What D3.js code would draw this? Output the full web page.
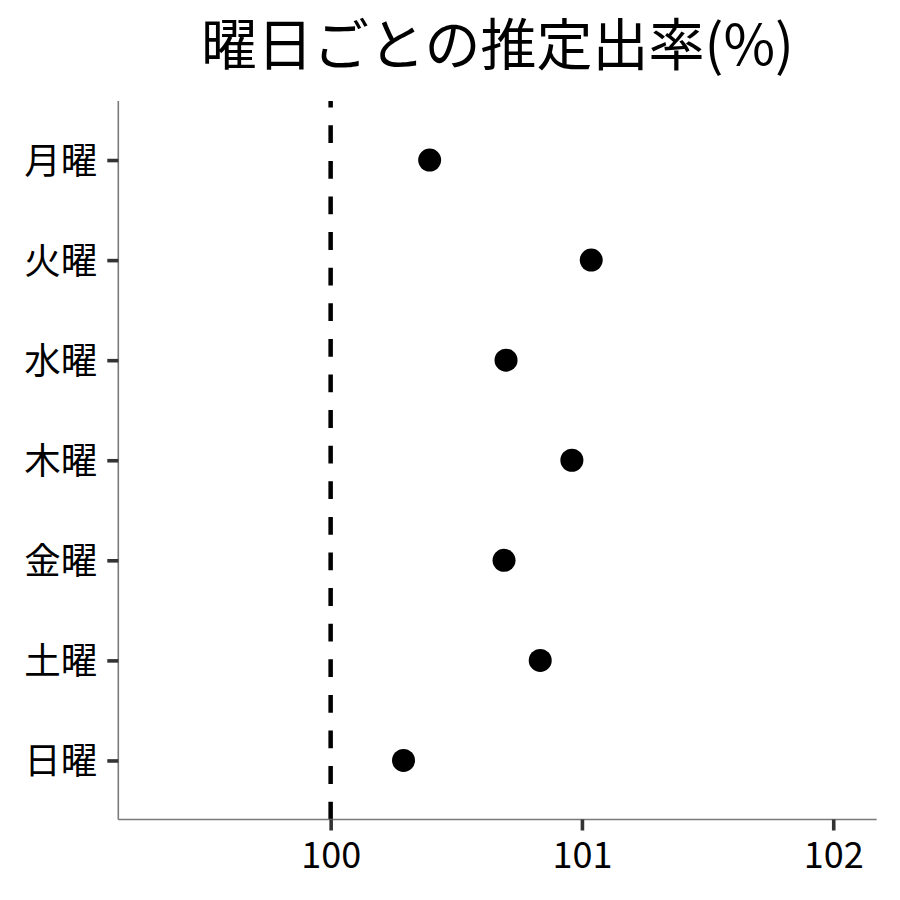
<!DOCTYPE html>
<html>
<head>
<meta charset="utf-8">
<script src="https://cdn.jsdelivr.net/npm/d3@7"></script>
<style>
html,body{margin:0;padding:0;background:#fff;}
svg{display:block;}
text{font-family:"Noto Sans CJK JP","Noto Sans",sans-serif;}
</style>
</head>
<body>
<svg id="chart" width="900" height="900"></svg>
<script>
const days = ["月曜","火曜","水曜","木曜","金曜","土曜","日曜"];
const rates = [100.394, 101.037, 100.698, 100.960, 100.690, 100.834, 100.290];
const xTicks = [100, 101, 102];
const refValue = 100;
const title = "曜日ごとの推定出率(%)";

(function(){
const svg = d3.select("#chart");
const pLeft = 118.3, pRight = 876.7, pTop = 101, pBottom = 819.5;

const x = d3.scaleLinear().domain([99.155, 102.173]).range([pLeft, pRight]);
const y = d3.scalePoint().domain(days).range([pTop, pBottom]).padding(0.59);

// title
svg.append("text")
  .attr("x", (pLeft + pRight) / 2)
  .attr("y", 65)
  .attr("text-anchor", "middle")
  .attr("font-size", 56)
  .attr("fill", "#000")
  .text(title);

// reference dashed line (drawn bottom to top)
svg.append("line")
  .attr("x1", x(refValue)).attr("x2", x(refValue))
  .attr("y1", pBottom).attr("y2", pTop)
  .attr("stroke", "#000")
  .attr("stroke-width", 4.5)
  .attr("stroke-dasharray", "17.8,17.8");

// x axis
const xAxis = d3.axisBottom(x).tickValues(xTicks).tickSize(11).tickPadding(8).tickFormat(d3.format("d"));
const gx = svg.append("g").attr("transform", `translate(0,${pBottom})`).call(xAxis);
gx.select(".domain").attr("stroke", "#7a7a7a").attr("stroke-width", 1.6)
  .attr("d", `M${pLeft},0H${pRight}`);
gx.selectAll(".tick line").attr("stroke", "#333").attr("stroke-width", 3.6);
gx.selectAll(".tick text").attr("font-size", 36).attr("fill", "#000")
  .attr("font-family", '"Noto Sans CJK JP","Noto Sans",sans-serif')
  .attr("y", 48).attr("dy", 0);

// y axis
const yAxis = d3.axisLeft(y).tickSize(11).tickPadding(10);
const gy = svg.append("g").attr("transform", `translate(${pLeft},0)`).call(yAxis);
gy.select(".domain").attr("stroke", "#7a7a7a").attr("stroke-width", 1.6)
  .attr("d", `M0,${pTop}V${pBottom}`);
gy.selectAll(".tick line").attr("stroke", "#333").attr("stroke-width", 3.6);
gy.selectAll(".tick text").attr("font-size", 36.5).attr("fill", "#000")
  .attr("font-family", '"Noto Sans CJK JP","Noto Sans",sans-serif')
  .attr("dy", "0.36em");

// points
svg.append("g").selectAll("circle")
  .data(days.map((d, i) => ({day: d, v: rates[i]})))
  .join("circle")
  .attr("cx", d => x(d.v))
  .attr("cy", d => y(d.day))
  .attr("r", 11.5)
  .attr("fill", "#000");
})();
</script>
</body>
</html>
